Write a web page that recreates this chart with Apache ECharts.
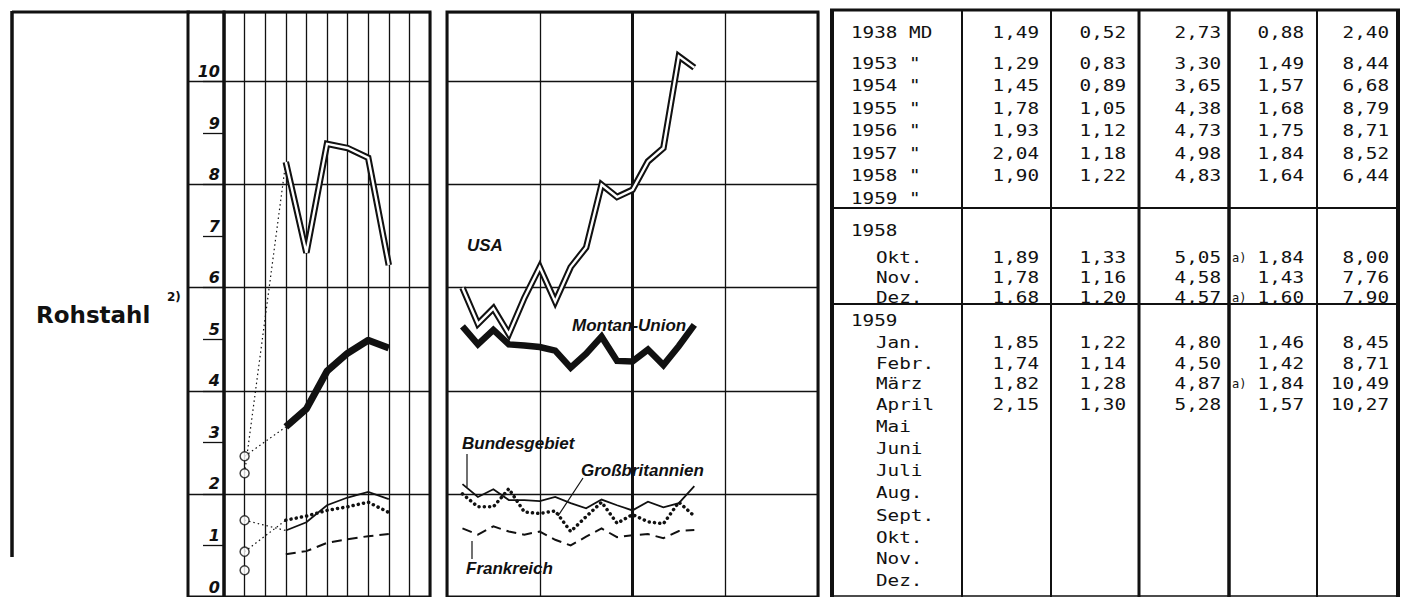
<!DOCTYPE html>
<html>
<head>
<meta charset="utf-8">
<script src="https://cdn.jsdelivr.net/npm/echarts@6/dist/echarts.min.js"></script>
<style>
html, body { margin: 0; background: #fff; }
#main { width: 1404px; height: 597px; }
</style>
</head>
<body>
<div id="main"></div>
<script>
// Rohstahl, Mio t je Monat (Monatsdurchschnitt)
// Spalten: Bundesgebiet, Frankreich, Montan-Union, Großbritannien, USA
var md1938 = [1.49, 0.52, 2.73, 0.88, 2.40];

var years = [1953, 1954, 1955, 1956, 1957, 1958];
var yearBund = [1.29, 1.45, 1.78, 1.93, 2.04, 1.90];
var yearFr   = [0.83, 0.89, 1.05, 1.12, 1.18, 1.22];
var yearMU   = [3.30, 3.65, 4.38, 4.73, 4.98, 4.83];
var yearGB   = [1.49, 1.57, 1.68, 1.75, 1.84, 1.64];
var yearUSA  = [8.44, 6.68, 8.79, 8.71, 8.52, 6.44];

// Monate Jan. 1958 bis April 1959 (Jan.-Sept. 1958 aus der Grafik geschaetzt)
var monthBund = [2.19, 1.94, 2.09, 1.88, 1.88, 1.86, 1.94, 1.82, 1.72, 1.89, 1.78, 1.68, 1.85, 1.74, 1.82, 2.15];
var monthFr   = [1.33, 1.21, 1.37, 1.27, 1.21, 1.27, 1.11, 1.00, 1.17, 1.33, 1.16, 1.20, 1.22, 1.14, 1.28, 1.30];
var monthMU   = [5.25, 4.90, 5.18, 4.90, 4.88, 4.85, 4.78, 4.45, 4.72, 5.05, 4.58, 4.57, 4.80, 4.50, 4.87, 5.28];
var monthGB   = [2.00, 1.75, 1.75, 2.10, 1.65, 1.62, 1.67, 1.27, 1.56, 1.84, 1.43, 1.60, 1.46, 1.42, 1.84, 1.57];
var monthUSA  = [6.00, 5.30, 5.60, 5.10, 5.80, 6.40, 5.73, 6.40, 6.78, 8.00, 7.76, 7.90, 8.45, 8.71, 10.49, 10.27];
var monthGBNote = ['', '', '', '', '', '', '', '', '', 'a)', '', 'a)', '', '', 'a)', ''];

var monthNames = ['Jan.', 'Febr.', 'März', 'April', 'Mai', 'Juni', 'Juli', 'Aug.', 'Sept.', 'Okt.', 'Nov.', 'Dez.'];
var tickLabels = [0, 1, 2, 3, 4, 5, 6, 7, 8, 9, 10];

var myChart = echarts.init(document.getElementById('main'), null, { renderer: 'svg' });

var INK = '#111';
var yMax = 589 / 51.9;

// Jahres-Achse: 1938 = 1, 1953 = 3 ... 1958 = 8
function yearPts(arr) {
    return arr.map(function (v, i) { return [3 + i, v]; });
}
function monthPts(arr) {
    return arr.map(function (v, i) { return [1 + i, v]; });
}
function fmt(v) {
    return v.toFixed(2).replace('.', ',');
}

function lineSeries(xi, yi, data, style, z) {
    return {
        type: 'line', xAxisIndex: xi, yAxisIndex: yi, data: data,
        symbol: 'none', silent: true, z: z || 3,
        lineStyle: Object.assign({ color: INK, join: 'miter' }, style)
    };
}

var frStyle = { width: 2, type: [10, 6] };
var gbStyle = { width: 3.5, type: [0.1, 5.2], cap: 'round' };
var bundStyle = { width: 1.8 };

var series = [];
// Verbindungen 1938 -> 1953
[[0, yearBund], [2, yearMU], [3, yearGB], [4, yearUSA]].forEach(function (p) {
    series.push(lineSeries(1, 1, [[1, md1938[p[0]]], [3, p[1][0]]], { width: 1.2, type: [1.5, 3] }, 2));
});
// Jahreswerte
series.push(lineSeries(1, 1, yearPts(yearFr), frStyle));
series.push(lineSeries(1, 1, yearPts(yearGB), gbStyle));
series.push(lineSeries(1, 1, yearPts(yearBund), bundStyle));
series.push(lineSeries(1, 1, yearPts(yearMU), { width: 7, join: 'round' }));
series.push(lineSeries(1, 1, yearPts(yearUSA), { width: 6.5 }, 4));
series.push(lineSeries(1, 1, yearPts(yearUSA), { width: 2.4, color: '#fff' }, 5));
series.push({
    type: 'scatter', xAxisIndex: 1, yAxisIndex: 1, silent: true, z: 6,
    data: md1938.map(function (v) { return [1, v]; }),
    symbol: 'circle', symbolSize: 9,
    itemStyle: { color: '#fff', borderColor: INK, borderWidth: 1.5 }
});
// Monatswerte
var frM = lineSeries(2, 3, monthPts(monthFr), frStyle);
frM.markLine = {
    silent: true, symbol: 'none', label: { show: false },
    lineStyle: { color: INK, width: 3, type: 'solid' },
    data: [{ xAxis: 12 }]
};
series.push(frM);
series.push(lineSeries(2, 3, monthPts(monthGB), gbStyle));
series.push(lineSeries(2, 3, monthPts(monthBund), bundStyle));
series.push(lineSeries(2, 3, monthPts(monthMU), { width: 6.5 }));
series.push(lineSeries(2, 3, monthPts(monthUSA), { width: 6.5 }, 4));
series.push(lineSeries(2, 3, monthPts(monthUSA), { width: 2.4, color: '#fff' }, 5));

// ---------- Tabelle ----------
var rows = [];
rows.push({ label: '1938 MD', vals: md1938 });
years.forEach(function (y, i) {
    rows.push({ label: y + ' "', vals: [yearBund[i], yearFr[i], yearMU[i], yearGB[i], yearUSA[i]] });
});
rows.push({ label: '1959 "' });
rows.push({ label: '1958' });
for (var m = 9; m < 12; m++) {
    rows.push({ label: monthNames[m], vals: [monthBund[m], monthFr[m], monthMU[m], monthGB[m], monthUSA[m]], note: monthGBNote[m] });
}
rows.push({ label: '1959' });
for (var k = 0; k < 12; k++) {
    var j = 12 + k;
    var r = { label: monthNames[k] };
    if (j < monthUSA.length) {
        r.vals = [monthBund[j], monthFr[j], monthMU[j], monthGB[j], monthUSA[j]];
        r.note = monthGBNote[j];
    }
    rows.push(r);
}

var rowY = [32, 63, 85.5, 108, 130.5, 153, 175.5, 198, 230, 257, 277, 297, 320,
            342, 363, 383, 404, 426, 448, 470, 492, 515, 537, 558, 580];
var colRight = [1039, 1126, 1221, 1304, 1389];
var monoFont = '16.5px "DejaVu Sans Mono"';

function txt(text, x, y, font, align, sx) {
    return {
        type: 'text', silent: true, z: 10,
        x: x, y: y, scaleX: sx || 1,
        style: {
            text: text, x: 0, y: 0, font: font, fill: INK,
            align: align || 'left', textAlign: align || 'left',
            verticalAlign: 'middle', textVerticalAlign: 'middle'
        }
    };
}
function ln(x1, y1, x2, y2, w) {
    return {
        type: 'line', silent: true, z: 9,
        shape: { x1: x1, y1: y1, x2: x2, y2: y2 },
        style: { stroke: INK, lineWidth: w }
    };
}

var graphics = [];
// Rahmen links
graphics.push(ln(12, 12, 190, 12, 3));
graphics.push(ln(12, 11, 12, 557, 3.5));
graphics.push(txt('Rohstahl', 36, 315, 'bold 23px "DejaVu Sans"'));
graphics.push(txt('2)', 167, 297, 'bold 12px "DejaVu Sans"'));

// Beschriftung Monatsgrafik
var labFont = 'italic bold 17px "Liberation Sans"';
graphics.push(txt('USA', 467, 245, labFont));
graphics.push(txt('Montan-Union', 572, 325, labFont));
graphics.push(txt('Bundesgebiet', 462, 443, labFont));
graphics.push(txt('Großbritannien', 581, 470, labFont));
graphics.push(txt('Frankreich', 466, 568, labFont));
graphics.push(ln(467, 454, 467, 487, 1.2));
graphics.push(ln(583, 478, 558, 516, 1.2));
graphics.push(ln(472, 541, 472, 559, 1.2));

// Tabellenrahmen
graphics.push(ln(830, 10, 1400, 10, 3));
graphics.push(ln(832, 9, 832, 597, 4));
graphics.push(ln(1398, 9, 1398, 597, 4));
graphics.push(ln(832, 208, 1398, 208, 2));
graphics.push(ln(832, 304, 1398, 304, 2));
graphics.push(ln(832, 596, 1398, 596, 1.5));
[[962, 2], [1051, 2], [1139, 3], [1229, 3.5], [1317, 2]].forEach(function (c) {
    graphics.push(ln(c[0], 10, c[0], 597, c[1]));
});
rows.forEach(function (row, i) {
    var y = rowY[i];
    var indent = /^\d/.test(row.label) ? 851 : 876;
    graphics.push(txt(row.label, indent, y, monoFont, 'left', 1.17));
    if (row.vals) {
        row.vals.forEach(function (v, c) {
            graphics.push(txt(fmt(v), colRight[c], y, monoFont, 'right', 1.17));
        });
    }
    if (row.note) {
        graphics.push(txt(row.note, 1232, y + 1, '12px "DejaVu Sans Mono"'));
    }
});

var hiddenAxis = { axisLine: { show: false }, axisTick: { show: false }, axisLabel: { show: false } };
var gridLine = { show: true, lineStyle: { color: INK, width: 1.3 } };

option = {
    animation: false,
    backgroundColor: '#fff',
    grid: [
        { left: 188, top: 12, width: 36, height: 589, show: true, borderColor: INK, borderWidth: 3 },
        { left: 224, top: 12, width: 206, height: 589, show: true, borderColor: INK, borderWidth: 3 },
        { left: 447, top: 12, width: 371, height: 589, show: true, borderColor: INK, borderWidth: 3 }
    ],
    xAxis: [
        Object.assign({ type: 'value', gridIndex: 0, min: 0, max: 1, splitLine: { show: false } }, hiddenAxis),
        Object.assign({ type: 'value', gridIndex: 1, min: 0, max: 10, interval: 1, splitLine: gridLine }, hiddenAxis),
        Object.assign({ type: 'value', gridIndex: 2, min: 0, max: 24, interval: 6, splitLine: gridLine }, hiddenAxis)
    ],
    yAxis: [
        Object.assign({ type: 'value', gridIndex: 0, min: 0, max: yMax, interval: 2, splitLine: gridLine }, hiddenAxis),
        Object.assign({ type: 'value', gridIndex: 1, min: 0, max: yMax, interval: 2, splitLine: gridLine }, hiddenAxis),
        {
            type: 'value', gridIndex: 1, min: 0, max: yMax, interval: 1, position: 'left',
            splitLine: { show: false },
            axisLine: { show: false },
            axisTick: { show: true, length: 21, customValues: tickLabels, lineStyle: { color: INK, width: 1.3 } },
            axisLabel: {
                show: true, customValues: tickLabels, margin: 4,
                color: INK, fontSize: 16, fontWeight: 'bold', fontStyle: 'italic',
                fontFamily: 'DejaVu Sans', verticalAlign: 'bottom', padding: [0, 0, 2, 0]
            }
        },
        Object.assign({ type: 'value', gridIndex: 2, min: 0, max: yMax, interval: 2, splitLine: gridLine }, hiddenAxis)
    ],
    graphic: graphics,
    series: series
};

myChart.setOption(option);
</script>
</body>
</html>
